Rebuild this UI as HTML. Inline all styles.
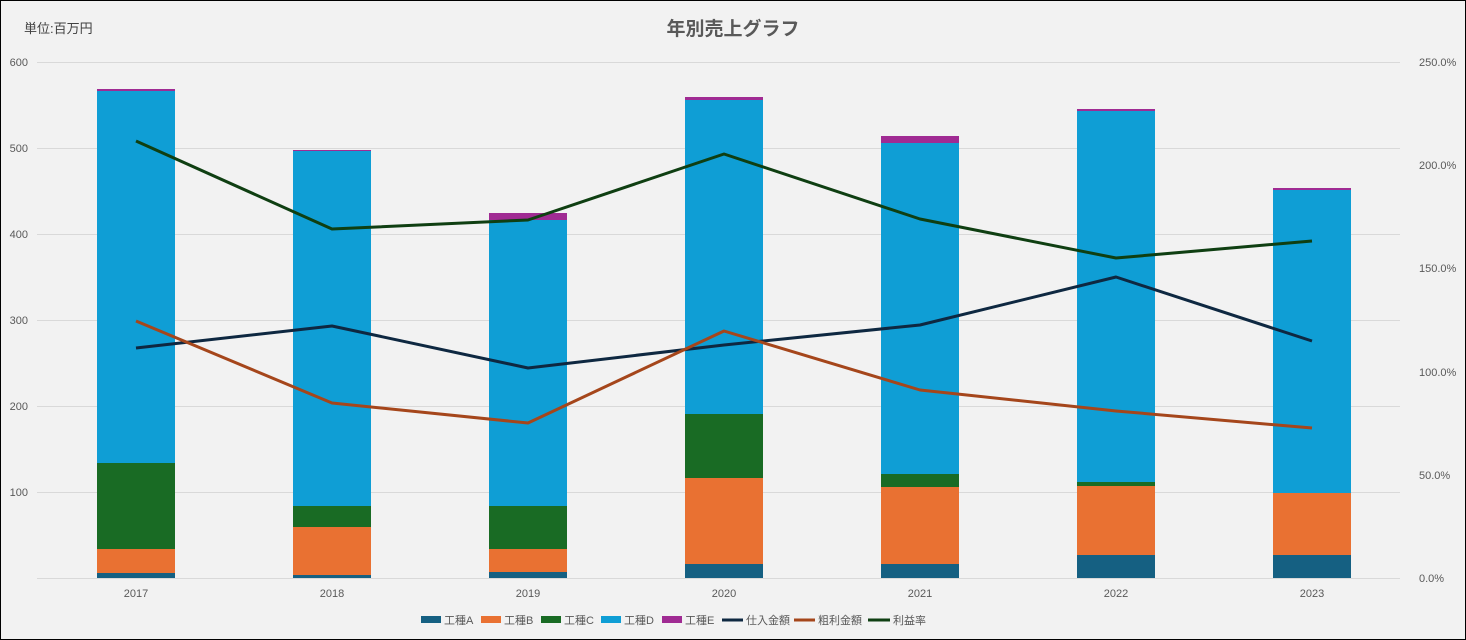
<!DOCTYPE html>
<html><head><meta charset="utf-8"><style>
html,body{margin:0;padding:0;background:#f2f2f2}
svg{display:block;font-family:"Liberation Sans","Noto Sans CJK JP",sans-serif}
</style></head><body>
<svg width="1466" height="640" viewBox="0 0 1466 640" xmlns="http://www.w3.org/2000/svg">
<rect x="0.5" y="0.5" width="1465" height="639" fill="#f2f2f2" stroke="#000" stroke-width="1"/>
<text x="733" y="35" text-anchor="middle" font-size="19" font-weight="bold" fill="#595959">年別売上グラフ</text>
<text x="24" y="33" font-size="13" fill="#404040">単位:百万円</text>
<g stroke="#d9d9d9" stroke-width="1">
<line x1="37" x2="1400" y1="62.5" y2="62.5"/><line x1="37" x2="1400" y1="148.5" y2="148.5"/>
<line x1="37" x2="1400" y1="234.5" y2="234.5"/><line x1="37" x2="1400" y1="320.5" y2="320.5"/>
<line x1="37" x2="1400" y1="406.5" y2="406.5"/><line x1="37" x2="1400" y1="492.5" y2="492.5"/>
<line x1="37" x2="1400" y1="578.5" y2="578.5"/>
</g>
<g font-size="11" fill="#595959" text-anchor="end">
<text x="28" y="66">600</text><text x="28" y="152">500</text><text x="28" y="238">400</text>
<text x="28" y="324">300</text><text x="28" y="410">200</text><text x="28" y="496">100</text>
</g>
<g font-size="11" fill="#595959" text-anchor="start">
<text x="1419" y="66">250.0%</text><text x="1419" y="169">200.0%</text><text x="1419" y="272">150.0%</text>
<text x="1419" y="376">100.0%</text><text x="1419" y="479">50.0%</text><text x="1419" y="582">0.0%</text>
</g>
<g font-size="11" fill="#595959" text-anchor="middle">
<text x="136" y="597">2017</text><text x="332" y="597">2018</text><text x="528" y="597">2019</text>
<text x="724" y="597">2020</text><text x="920" y="597">2021</text><text x="1116" y="597">2022</text><text x="1312" y="597">2023</text>
</g>
<g>
<!-- 2017 -->
<rect x="97" y="573" width="78" height="5" fill="#156082"/>
<rect x="97" y="549" width="78" height="24" fill="#e97132"/>
<rect x="97" y="463" width="78" height="86" fill="#196b24"/>
<rect x="97" y="91" width="78" height="372" fill="#0f9ed5"/>
<rect x="97" y="89" width="78" height="2" fill="#a02b93"/>
<!-- 2018 -->
<rect x="293" y="575" width="78" height="3" fill="#156082"/>
<rect x="293" y="527" width="78" height="48" fill="#e97132"/>
<rect x="293" y="506" width="78" height="21" fill="#196b24"/>
<rect x="293" y="151" width="78" height="355" fill="#0f9ed5"/>
<rect x="293" y="150" width="78" height="1" fill="#a02b93"/>
<!-- 2019 -->
<rect x="489" y="572" width="78" height="6" fill="#156082"/>
<rect x="489" y="549" width="78" height="23" fill="#e97132"/>
<rect x="489" y="506" width="78" height="43" fill="#196b24"/>
<rect x="489" y="220" width="78" height="286" fill="#0f9ed5"/>
<rect x="489" y="213" width="78" height="7" fill="#a02b93"/>
<!-- 2020 -->
<rect x="685" y="564" width="78" height="14" fill="#156082"/>
<rect x="685" y="478" width="78" height="86" fill="#e97132"/>
<rect x="685" y="414" width="78" height="64" fill="#196b24"/>
<rect x="685" y="100" width="78" height="314" fill="#0f9ed5"/>
<rect x="685" y="97" width="78" height="3" fill="#a02b93"/>
<!-- 2021 -->
<rect x="881" y="564" width="78" height="14" fill="#156082"/>
<rect x="881" y="487" width="78" height="77" fill="#e97132"/>
<rect x="881" y="474" width="78" height="13" fill="#196b24"/>
<rect x="881" y="143" width="78" height="331" fill="#0f9ed5"/>
<rect x="881" y="136" width="78" height="7" fill="#a02b93"/>
<!-- 2022 -->
<rect x="1077" y="555" width="78" height="23" fill="#156082"/>
<rect x="1077" y="486" width="78" height="69" fill="#e97132"/>
<rect x="1077" y="482" width="78" height="4" fill="#196b24"/>
<rect x="1077" y="111" width="78" height="371" fill="#0f9ed5"/>
<rect x="1077" y="109" width="78" height="2" fill="#a02b93"/>
<!-- 2023 -->
<rect x="1273" y="555" width="78" height="23" fill="#156082"/>
<rect x="1273" y="493" width="78" height="62" fill="#e97132"/>
<rect x="1273" y="190" width="78" height="303" fill="#0f9ed5"/>
<rect x="1273" y="188" width="78" height="2" fill="#a02b93"/>
</g>
<g fill="none" stroke-width="3" stroke-linejoin="round">
<polyline stroke="#0e2841" points="136,348 332,326 528,368 724,345 920,325 1116,277 1312,341"/>
<polyline stroke="#a5461b" points="136,321 332,403 528,423 724,331 920,390 1116,411 1312,428"/>
<polyline stroke="#0f3f12" points="136,141 332,229 528,220 724,154 920,219 1116,258 1312,241"/>
</g>
<g font-size="11" fill="#595959">
<rect x="421" y="616" width="20" height="7" fill="#156082"/><text x="444" y="624">工種A</text>
<rect x="481" y="616" width="20" height="7" fill="#e97132"/><text x="504" y="624">工種B</text>
<rect x="541" y="616" width="20" height="7" fill="#196b24"/><text x="564" y="624">工種C</text>
<rect x="601" y="616" width="20" height="7" fill="#0f9ed5"/><text x="624" y="624">工種D</text>
<rect x="662" y="616" width="20" height="7" fill="#a02b93"/><text x="685" y="624">工種E</text>
<line x1="722" x2="743" y1="620" y2="620" stroke="#0e2841" stroke-width="3"/><text x="746" y="624">仕入金額</text>
<line x1="794" x2="815" y1="620" y2="620" stroke="#a5461b" stroke-width="3"/><text x="818" y="624">粗利金額</text>
<line x1="868" x2="890" y1="620" y2="620" stroke="#0f3f12" stroke-width="3"/><text x="893" y="624">利益率</text>
</g>
</svg>
</body></html>
